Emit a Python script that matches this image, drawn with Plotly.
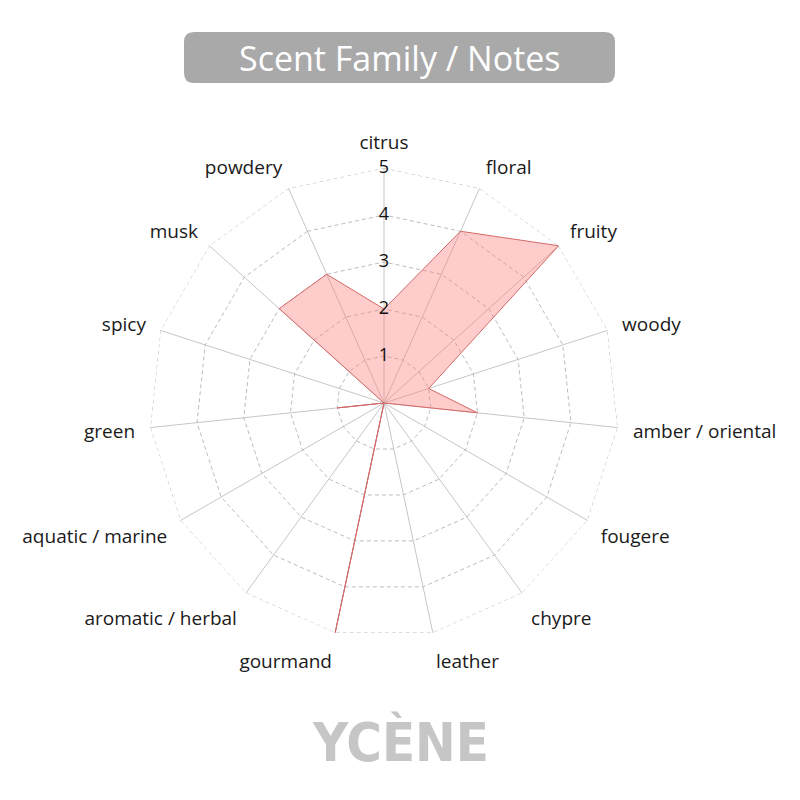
import plotly.graph_objects as go

categories = ['citrus', 'floral', 'fruity', 'woody', 'amber / oriental', 'fougere',
              'chypre', 'leather', 'gourmand', 'aromatic / herbal', 'aquatic / marine',
              'green', 'spicy', 'musk', 'powdery']
values = [2, 4, 5, 1, 2, 0, 0, 0, 5, 0, 0, 1, 0, 3, 3]
scale_ticks = [0, 1, 2, 3, 4, 5]

font = "Open Sans, Noto Sans, sans-serif"

fig = go.Figure()
# outer dashed ring at max score
fig.add_trace(go.Scatterpolar(
    r=[scale_ticks[-1]] * (len(categories) + 1),
    theta=categories + categories[:1],
    mode='lines',
    line=dict(color='#bdbdbd', width=1, dash='4px,3px'),
    hoverinfo='skip',
))
fig.add_trace(go.Scatterpolar(
    r=values + values[:1],
    theta=categories + categories[:1],
    mode='lines',
    fill='toself',
    fillcolor='rgba(255,120,120,0.38)',
    line=dict(color='#d46a68', width=1),
    hoverinfo='skip',
))
# scale numbers sitting on the citrus spoke
fig.add_trace(go.Scatterpolar(
    r=scale_ticks,
    theta=[categories[0]] * len(scale_ticks),
    mode='text',
    text=[str(t) for t in scale_ticks],
    textfont=dict(family=font, size=18, color='#111111'),
    textposition='middle center',
    cliponaxis=False,
    hoverinfo='skip',
))

fig.update_layout(
    width=800, height=800,
    paper_bgcolor='white',
    showlegend=False,
    margin=dict(l=0, r=0, t=0, b=0),
    polar=dict(
        domain=dict(x=[0.17625, 0.76375], y=[0.2125, 0.8]),
        bgcolor='white',
        gridshape='linear',
        radialaxis=dict(
            range=[0, 5],
            tickvals=scale_ticks[1:],
            showticklabels=False,
            ticks='',
            showline=False,
            gridcolor='#bdbdbd',
            griddash='4px,3px',
            gridwidth=1,
        ),
        angularaxis=dict(
            type='category',
            direction='clockwise',
            rotation=90,
            showline=False,
            gridcolor='#c6c6c6',
            gridwidth=1,
            ticks='outside',
            ticklen=11,
            tickcolor='rgba(0,0,0,0)',
            tickfont=dict(family=font, size=19, color='#1a1a1a'),
        ),
    ),
    shapes=[dict(
        type='path', xref='paper', yref='paper', layer='below',
        path='M 0.2325,0.97 L 0.74625,0.97 Q 0.75875,0.97 0.75875,0.9575 L 0.75875,0.91875 '
             'Q 0.75875,0.90625 0.74625,0.90625 L 0.2325,0.90625 Q 0.22,0.90625 0.22,0.91875 '
             'L 0.22,0.9575 Q 0.22,0.97 0.2325,0.97 Z',
        fillcolor='#a9a9a9', line=dict(width=0),
    )],
    annotations=[
        dict(text='Scent Family / Notes', x=0.49, y=0.938, xref='paper', yref='paper',
             xanchor='center', yanchor='middle', showarrow=False,
             font=dict(family=font, size=34, color='white')),
        dict(text='<b>YCÈNE</b>', x=0.49, y=0.0825, xref='paper', yref='paper',
             xanchor='center', yanchor='middle', showarrow=False,
             font=dict(family='Liberation Sans Narrow, DejaVu Sans Condensed, sans-serif',
                       size=54, color='#c6c6c6')),
    ],
)

fig.write_html("out.html")
